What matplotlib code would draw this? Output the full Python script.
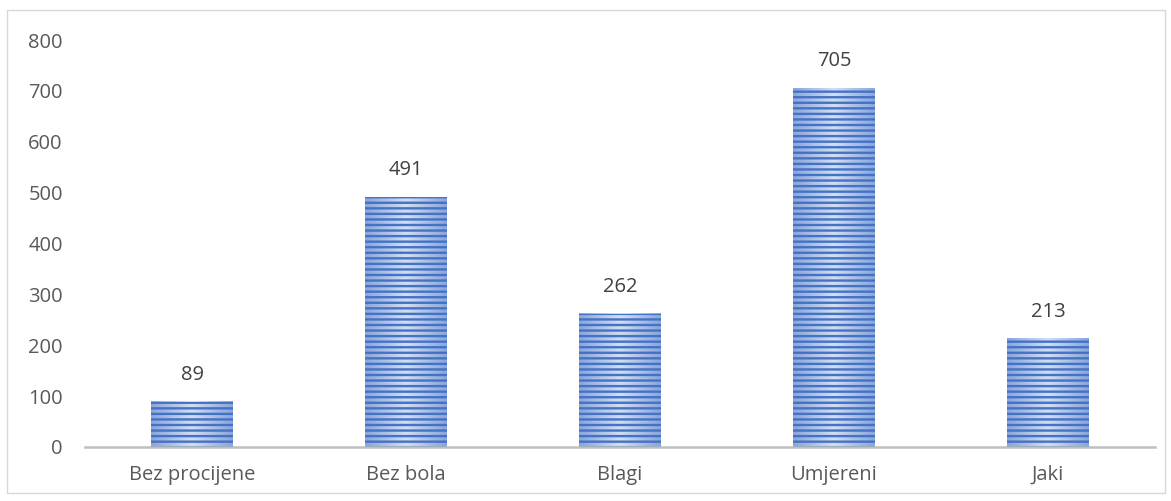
import matplotlib
matplotlib.use("Agg")
import matplotlib.pyplot as plt
import numpy as np
from matplotlib.patches import Rectangle
from matplotlib.colors import LinearSegmentedColormap

categories = ["Bez procijene", "Bez bola", "Blagi", "Umjereni", "Jaki"]
values = [89, 491, 262, 705, 213]
yticks = [0, 100, 200, 300, 400, 500, 600, 700, 800]

plt.rcParams['font.family'] = ['Open Sans', 'DejaVu Sans']
plt.rcParams['hatch.linewidth'] = 1.7
plt.rcParams['hatch.color'] = '#4472C4'

W, H = 1171, 501
fig = plt.figure(figsize=(W/100, H/100), dpi=100)
ax = fig.add_axes([85/W, 1-447/H, (1155-85)/W, (447-40)/H])

x = list(range(len(categories)))
bw = 0.38
cmap = LinearSegmentedColormap.from_list('g', ['#8AA6DC', '#D2DEF3', '#8AA6DC'])
grad = np.linspace(0, 1, 64).reshape(1, -1)
bars = ax.bar(x, values, width=bw, facecolor='none', edgecolor='#4472C4',
              linewidth=0, hatch='---', zorder=3)
for b, v in zip(bars, values):
    x0 = b.get_x()
    ax.imshow(grad, cmap=cmap, aspect='auto', extent=(x0, x0+bw, 0, v),
              zorder=2, interpolation='bicubic')
    ax.annotate(str(v), (b.get_x()+b.get_width()/2, v), xytext=(0, 19.5),
                textcoords='offset points', ha='center', va='center',
                fontsize=14.5, color='#404040')

ax.set_xlim(-0.5, len(categories)-0.5)
ax.set_ylim(0, 800)
ax.set_yticks(yticks)
ax.set_xticks(x)
ax.set_xticklabels(categories)
ax.tick_params(axis='both', length=0, labelsize=14.5, labelcolor='#595959')
ax.tick_params(axis='y', pad=16)
ax.tick_params(axis='x', pad=13)
for s in ['top', 'right', 'left']:
    ax.spines[s].set_visible(False)
ax.spines['bottom'].set_color('#BFBFBF')
ax.spines['bottom'].set_linewidth(1.8)
ax.spines['bottom'].set_zorder(4)

fig.patches.append(Rectangle((7/W, 1-493/H), (1165-7)/W, (493-10)/H, transform=fig.transFigure,
                             fill=False, edgecolor='#D9D9D9', linewidth=1.0))
fig.savefig('out.png', dpi=100)
